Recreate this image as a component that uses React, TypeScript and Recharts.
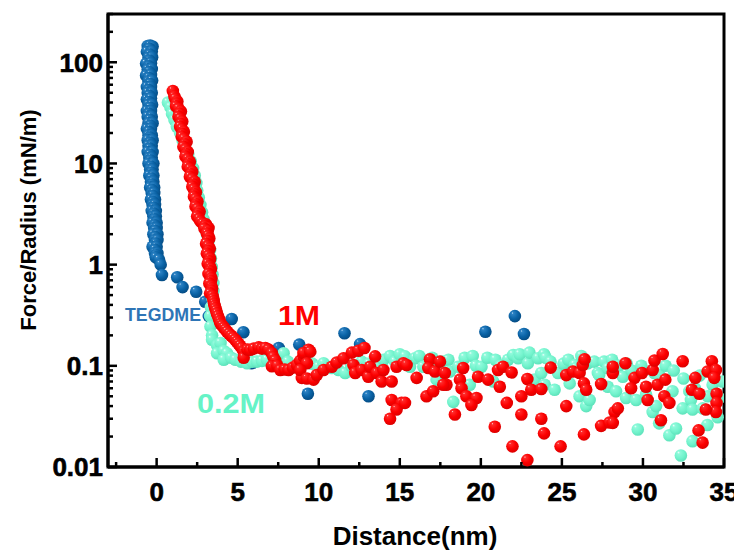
import { Scatter, ScatterChart, XAxis, YAxis } from 'recharts';

// axis ticks
const xMajor = [0, 5, 10, 15, 20, 25, 30, 35];
const xMinor = [-2.5, 2.5, 7.5, 12.5, 17.5, 22.5, 27.5, 32.5];
const yMajor = [0.01, 0.1, 1, 10, 100];
const yMinor = [
  0.02, 0.03, 0.04, 0.05, 0.06, 0.07, 0.08, 0.09,
  0.2, 0.3, 0.4, 0.5, 0.6, 0.7, 0.8, 0.9,
  2, 3, 4, 5, 6, 7, 8, 9,
  20, 30, 40, 50, 60, 70, 80, 90,
  200, 300,
];

// [distance nm, force/radius mN/m]
const tegdme: [number, number][] = [
  [-0.55, 145], [-0.4, 146], [-0.25, 143], [-0.45, 136],
  [-0.6, 127], [-0.3, 128], [-0.42, 119], [-0.5, 111], [-0.28, 112], [-0.45, 104],
  [-0.65, 97], [-0.35, 98], [-0.48, 91], [-0.55, 85], [-0.3, 86], [-0.45, 80],
  [-0.65, 74], [-0.35, 75], [-0.48, 70], [-0.5, 65], [-0.28, 66], [-0.4, 61],
  [-0.6, 57], [-0.35, 57], [-0.48, 53], [-0.55, 50], [-0.3, 50], [-0.45, 46.5],
  [-0.6, 43], [-0.35, 44], [-0.48, 40.5], [-0.5, 38], [-0.28, 38], [-0.4, 35.5],
  [-0.6, 33], [-0.35, 33], [-0.48, 31], [-0.55, 29], [-0.3, 29], [-0.42, 27],
  [-0.5, 25], [-0.25, 25], [-0.38, 23.5], [-0.6, 22], [-0.35, 22], [-0.48, 20.5],
  [-0.5, 19], [-0.3, 19], [-0.4, 18], [-0.55, 17], [-0.25, 17], [-0.4, 16],
  [-0.5, 15], [-0.3, 15], [-0.42, 14], [-0.55, 13], [-0.25, 13], [-0.4, 12.2],
  [-0.45, 11.4], [-0.3, 11.4], [-0.38, 10.7], [-0.5, 10], [-0.2, 10], [-0.35, 9.3],
  [-0.4, 8.7], [-0.25, 8.7], [-0.32, 8.1], [-0.45, 7.6], [-0.2, 7.6], [-0.32, 7.1],
  [-0.35, 6.6], [-0.2, 6.6], [-0.28, 6.2], [-0.4, 5.8], [-0.15, 5.8], [-0.28, 5.45],
  [-0.3, 5.1], [-0.15, 5.1], [-0.22, 4.75], [-0.35, 4.4], [-0.1, 4.4], [-0.22, 4.15],
  [-0.25, 3.9], [-0.1, 3.9], [-0.18, 3.65], [-0.3, 3.4], [-0.05, 3.4], [-0.18, 3.2],
  [-0.2, 3.0], [-0.05, 3.0], [-0.12, 2.8], [-0.25, 2.6], [0.0, 2.6], [-0.12, 2.45],
  [-0.15, 2.3], [0.0, 2.3], [-0.08, 2.15], [-0.2, 2.0], [0.05, 2.0], [-0.08, 1.87],
  [-0.1, 1.75], [0.05, 1.75], [-0.05, 1.62], [-0.25, 1.5], [0.0, 1.5], [-0.1, 1.4],
  [-0.1, 1.3], [0.05, 1.3], [-0.02, 1.24], [-0.05, 1.18], [0.15, 1.12],
  [0.25, 1.0], [0.33, 0.79], [1.27, 0.75], [1.6, 0.6],
  [2.44, 0.54], [3.0, 0.43], [3.22, 0.31], [4.63, 0.29],
  [5.35, 0.215], [5.88, 0.106], [7.53, 0.15], [8.8, 0.162],
  [9.33, 0.053], [11.59, 0.21], [12.55, 0.164], [13.07, 0.05],
  [20.28, 0.217], [22.1, 0.31], [22.66, 0.206],
];

const m02: [number, number][] = [
  [0.7, 40], [0.85, 36], [0.95, 31], [1.1, 27], [1.25, 23], [1.45, 20],
  [1.6, 17], [1.75, 14.5], [1.95, 12.5], [2.1, 10.5], [2.25, 9], [2.35, 7.6],
  [2.45, 6.4], [2.5, 5.4], [2.6, 4.6], [2.7, 3.9], [2.8, 3.3], [2.9, 2.8],
  [3.0, 2.4], [3.1, 2.0], [3.2, 1.7], [3.3, 1.4], [3.35, 1.15], [3.4, 0.95],
  [3.45, 0.8], [3.5, 0.66], [3.5, 0.55], [3.45, 0.46], [3.35, 0.38], [3.3, 0.31],
  [3.32, 0.245], [3.42, 0.2], [3.42, 0.181], [3.73, 0.16], [3.94, 0.168],
  [3.73, 0.133], [4.14, 0.14], [4.34, 0.133], [4.14, 0.115], [4.6, 0.12],
  [4.86, 0.115], [5.2, 0.11], [5.58, 0.106], [5.9, 0.11], [6.19, 0.11],
  [6.5, 0.112], [6.81, 0.115], [7.1, 0.11], [7.42, 0.106], [7.83, 0.133],
  [8.1, 0.11], [8.45, 0.099], [8.8, 0.105], [9.2, 0.11], [9.6, 0.105],
  [9.99, 0.098], [10.3, 0.106], [10.8, 0.095], [11.22, 0.091], [11.63, 0.085],
  [12.0, 0.1], [12.65, 0.11], [13.1, 0.105], [13.68, 0.102], [14.0, 0.115],
  [14.4, 0.125], [14.71, 0.11], [15.0, 0.13], [15.32, 0.124], [15.63, 0.098],
  [15.94, 0.119], [16.2, 0.125], [16.45, 0.098], [16.9, 0.105], [17.0, 0.12],
  [17.27, 0.073], [17.6, 0.11], [18.0, 0.115], [18.09, 0.088], [18.3, 0.044],
  [18.6, 0.098], [19.0, 0.12], [19.32, 0.065], [19.5, 0.125], [19.7, 0.1],
  [20.04, 0.098], [20.4, 0.12], [20.76, 0.07], [20.9, 0.115], [21.2, 0.1],
  [21.68, 0.115], [22.0, 0.128], [22.3, 0.119], [22.4, 0.13], [22.9, 0.106],
  [23.0, 0.135], [23.32, 0.073], [23.53, 0.119], [23.73, 0.085], [23.9, 0.13],
  [23.94, 0.065], [24.0, 0.12], [24.3, 0.11], [24.55, 0.058], [24.76, 0.085],
  [25.1, 0.105], [25.4, 0.115], [25.48, 0.067], [25.8, 0.102], [25.88, 0.095],
  [26.09, 0.05], [26.2, 0.125], [26.5, 0.04], [26.6, 0.106], [26.71, 0.046],
  [27.0, 0.11], [27.22, 0.085], [27.3, 0.081], [27.6, 0.11], [27.83, 0.095],
  [27.83, 0.062], [28.1, 0.115], [28.34, 0.056], [28.5, 0.1], [28.76, 0.078],
  [28.96, 0.048], [29.0, 0.105], [29.3, 0.09], [29.58, 0.046], [29.68, 0.0235],
  [29.9, 0.1], [30.19, 0.052], [30.6, 0.035], [30.7, 0.085], [30.81, 0.04],
  [31.0, 0.081], [31.0, 0.027], [31.4, 0.1], [31.63, 0.0206], [31.82, 0.056],
  [31.9, 0.09], [32.04, 0.024], [32.34, 0.013], [32.45, 0.038], [32.5, 0.075],
  [32.86, 0.056], [32.96, 0.046], [33.06, 0.037], [33.06, 0.018], [33.2, 0.06],
  [33.5, 0.08], [33.68, 0.038], [33.98, 0.026], [34.0, 0.05], [34.3, 0.065],
  [34.61, 0.031], [34.71, 0.048], [34.9, 0.07], [34.2, 0.09],
];

const m1: [number, number][] = [
  [1.0, 52], [1.1, 46], [1.15, 43.5], [1.28, 41], [1.24, 39], [1.2, 36.7],
  [1.35, 34.7], [1.5, 32.7], [1.42, 31], [1.35, 29], [1.46, 27.5], [1.58, 26],
  [1.5, 24.5], [1.45, 23], [1.56, 21.8], [1.68, 20.6], [1.6, 19.5], [1.55, 18.4],
  [1.7, 17.4], [1.85, 16.4], [1.75, 15.5], [1.65, 14.6], [1.78, 13.8], [1.92, 13],
  [1.85, 12.3], [1.78, 11.7], [1.92, 11], [2.05, 10.4], [1.98, 9.8], [1.92, 9.3],
  [2.06, 8.8], [2.2, 8.3], [2.12, 7.8], [2.05, 7.4], [2.2, 7.0], [2.35, 6.6],
  [2.28, 6.2], [2.2, 5.9], [2.3, 5.55], [2.42, 5.2], [2.36, 4.95], [2.3, 4.7],
  [2.4, 4.45], [2.52, 4.2], [2.46, 3.95], [2.4, 3.75], [2.52, 3.55], [2.65, 3.35],
  [2.58, 3.17], [2.5, 3.0], [2.62, 2.82], [2.72, 2.66], [2.85, 2.55], [3.05, 2.5],
  [3.0, 2.4], [3.2, 2.3], [2.95, 2.27], [3.15, 2.15], [3.1, 2.03], [3.18, 1.92],
  [3.25, 1.81], [3.16, 1.71], [3.05, 1.61], [3.18, 1.52], [3.28, 1.44], [3.2, 1.36],
  [3.1, 1.29], [3.2, 1.22], [3.3, 1.15], [3.25, 1.08], [3.15, 1.02], [3.28, 0.96],
  [3.35, 0.91], [3.3, 0.86], [3.2, 0.81], [3.32, 0.77], [3.38, 0.73], [3.35, 0.69],
  [3.25, 0.65], [3.38, 0.61], [3.42, 0.58], [3.4, 0.55], [3.3, 0.52], [3.45, 0.49],
  [3.5, 0.46], [3.52, 0.435], [3.55, 0.41], [3.58, 0.39], [3.62, 0.37], [3.68, 0.35],
  [3.72, 0.33], [3.78, 0.31], [3.85, 0.29], [3.9, 0.275], [3.95, 0.26], [4.05, 0.25],
  [4.15, 0.238], [4.25, 0.228], [4.35, 0.217], [4.48, 0.207], [4.6, 0.198], [4.72, 0.19],
  [4.85, 0.181], [4.95, 0.173], [5.05, 0.165], [5.15, 0.158], [5.25, 0.15],
  [5.37, 0.139], [5.37, 0.12], [5.6, 0.145], [5.78, 0.144],
  [6.0, 0.148], [6.3, 0.152], [6.5, 0.148], [6.71, 0.15], [6.9, 0.145], [7.11, 0.133],
  [7.2, 0.122], [7.32, 0.113], [7.11, 0.099], [7.45, 0.1], [7.63, 0.091], [7.9, 0.092],
  [8.14, 0.091], [8.4, 0.096], [8.65, 0.102], [8.85, 0.112], [9.06, 0.124], [9.2, 0.135],
  [9.37, 0.144], [8.96, 0.076],
  [9.06, 0.134], [9.48, 0.138], [9.27, 0.106], [8.86, 0.091], [9.27, 0.075], [9.68, 0.073],
  [9.88, 0.081], [10.3, 0.091], [10.81, 0.098], [11.11, 0.108], [11.53, 0.119], [12.04, 0.135],
  [12.45, 0.141], [12.82, 0.15], [12.14, 0.102], [12.25, 0.085], [12.65, 0.091], [13.06, 0.078],
  [13.17, 0.098], [13.48, 0.124], [13.58, 0.085], [13.88, 0.07], [13.99, 0.091], [14.5, 0.07],
  [14.8, 0.098], [15.22, 0.106], [14.5, 0.046], [15.11, 0.043], [14.8, 0.037], [14.4, 0.03],
  [15.42, 0.102], [16.04, 0.076], [16.86, 0.116], [16.76, 0.095], [17.17, 0.088], [17.48, 0.11],
  [17.78, 0.085], [17.88, 0.065], [18.71, 0.073], [18.81, 0.06], [18.91, 0.095], [19.11, 0.05],
  [19.73, 0.048], [19.42, 0.041], [19.83, 0.078], [20.45, 0.073], [21.06, 0.091], [21.37, 0.098],
  [21.17, 0.062], [21.9, 0.086], [16.65, 0.05], [17.06, 0.056], [15.32, 0.043], [18.4, 0.033],
  [20.86, 0.025], [21.6, 0.043], [21.95, 0.016], [17.68, 0.065],
  [22.87, 0.074], [23.11, 0.058], [23.73, 0.059], [24.31, 0.096], [25.27, 0.081], [25.68, 0.088],
  [26.09, 0.085], [26.29, 0.102], [26.4, 0.116], [26.36, 0.067], [26.5, 0.058], [27.42, 0.066],
  [28.14, 0.085], [28.14, 0.098], [22.5, 0.05], [22.5, 0.033], [23.73, 0.03], [23.9, 0.0215],
  [25.27, 0.04], [26.36, 0.021], [27.42, 0.0255], [27.94, 0.0275], [28.25, 0.035], [22.87, 0.0117],
  [24.92, 0.016],
  [28.92, 0.106], [29.48, 0.076], [29.94, 0.085], [29.27, 0.06], [30.19, 0.062], [30.29, 0.046],
  [30.6, 0.091], [30.71, 0.113], [31.22, 0.131], [30.9, 0.065], [31.38, 0.073], [31.32, 0.05],
  [31.63, 0.043], [32.45, 0.111], [33.23, 0.076], [33.02, 0.058], [33.48, 0.053], [34.25, 0.111],
  [33.99, 0.088], [34.5, 0.091], [34.4, 0.076], [34.54, 0.053], [34.54, 0.043], [34.5, 0.035],
  [33.88, 0.037], [28.45, 0.038], [28.14, 0.0273], [31.11, 0.029], [33.43, 0.023], [33.68, 0.0174],
];

const toPts = (arr: [number, number][]) => arr.map(([x, y]) => ({ x, y }));

const FONT = 'Liberation Sans, Arial, sans-serif';

// plot box in chart pixels
const PLOT = { left: 100, top: 6, width: 616, height: 453 };

function ball(grad: string) {
  return (props: any) => {
    const { cx, cy } = props;
    if (cx == null || cy == null) return <g />;
    return <circle cx={cx} cy={cy} r={6.3} fill={`url(#${grad})`} />;
  };
}

function XTick({ x, y, payload }: any) {
  const major = xMajor.includes(payload.value);
  return (
    <g>
      <line x1={x} x2={x} y1={y} y2={y - (major ? 9 : 5)} stroke="#000" strokeWidth={2.5} />
      {major && (
        <text x={x} y={y + 34} textAnchor="middle" fontFamily={FONT} fontWeight="bold" fontSize={26}
          fill="#000" stroke="#000" strokeWidth={0.6}>
          {payload.value}
        </text>
      )}
    </g>
  );
}

function YTick({ x, y, payload }: any) {
  const major = yMajor.includes(payload.value);
  return (
    <g>
      <line x1={x} x2={x + (major ? 9 : 5)} y1={y} y2={y} stroke="#000" strokeWidth={2.5} />
      {major && (
        <text x={x - 5} y={y} dy="0.36em" textAnchor="end" fontFamily={FONT} fontWeight="bold" fontSize={26}
          fill="#000" stroke="#000" strokeWidth={0.6}>
          {String(payload.value)}
        </text>
      )}
    </g>
  );
}

export default function App() {
  return (
    <div>
      <style>{'.recharts-surface { overflow: visible; }'}</style>
      <ScatterChart width={726} height={543} margin={{ top: 6, right: 10, left: 0, bottom: 0 }}>
        <defs>
          <radialGradient id="gBlue" cx="0.42" cy="0.38" r="0.62" fx="0.3" fy="0.25">
            <stop offset="0" stopColor="#cfe6f8" />
            <stop offset="0.13" stopColor="#2c82c4" />
            <stop offset="0.6" stopColor="#0a63a6" />
            <stop offset="1" stopColor="#054c84" />
          </radialGradient>
          <radialGradient id="gRed" cx="0.42" cy="0.38" r="0.62" fx="0.3" fy="0.25">
            <stop offset="0" stopColor="#ffd6d6" />
            <stop offset="0.13" stopColor="#ff2a2a" />
            <stop offset="0.6" stopColor="#fc0000" />
            <stop offset="1" stopColor="#dc0000" />
          </radialGradient>
          <radialGradient id="gAqua" cx="0.42" cy="0.38" r="0.62" fx="0.3" fy="0.25">
            <stop offset="0" stopColor="#effffa" />
            <stop offset="0.18" stopColor="#8ffadb" />
            <stop offset="0.65" stopColor="#72f3cc" />
            <stop offset="1" stopColor="#5ee2bb" />
          </radialGradient>
        </defs>
        <XAxis
          dataKey="x"
          type="number"
          domain={[-3, 35]}
          ticks={[...xMinor, ...xMajor].sort((a, b) => a - b)}
          interval={0}
          height={84}
          tickSize={0}
          tickMargin={0}
          tick={<XTick />}
          axisLine={{ stroke: '#000', strokeWidth: 3 }}
          allowDataOverflow
        />
        <YAxis
          dataKey="y"
          type="number"
          scale="log"
          domain={[0.01, 300]}
          ticks={[...yMinor, ...yMajor].sort((a, b) => a - b)}
          interval={0}
          width={100}
          tickSize={0}
          tickMargin={0}
          tick={<YTick />}
          axisLine={{ stroke: '#000', strokeWidth: 3 }}
          allowDataOverflow
        />
        <Scatter data={toPts(tegdme)} shape={ball('gBlue')} isAnimationActive={false} />
        <Scatter data={toPts(m02)} shape={ball('gAqua')} isAnimationActive={false} />
        <Scatter data={toPts(m1)} shape={ball('gRed')} isAnimationActive={false} />
        <rect x={PLOT.left} y={PLOT.top} width={PLOT.width} height={PLOT.height} fill="none" stroke="#000" strokeWidth={3} />
        <text x={155} y={313} textAnchor="middle" fontFamily={FONT} fontWeight="bold" fontSize={18}
          textLength={76} lengthAdjust="spacingAndGlyphs" fill="#2e75b6">
          TEGDME
        </text>
        <text x={291} y={317} textAnchor="middle" fontFamily={FONT} fontWeight="bold" fontSize={27}
          textLength={42} lengthAdjust="spacingAndGlyphs" fill="#ff0000">
          1M
        </text>
        <text x={223} y={405} textAnchor="middle" fontFamily={FONT} fontWeight="bold" fontSize={28}
          textLength={68} lengthAdjust="spacingAndGlyphs" fill="#66f3c6">
          0.2M
        </text>
        <text x={407} y={537} textAnchor="middle" fontFamily={FONT} fontWeight="bold" fontSize={26} fill="#000">
          Distance(nm)
        </text>
        <text
          transform="translate(28,212) rotate(-90)"
          textAnchor="middle"
          fontFamily={FONT}
          fontWeight="bold"
          fontSize={22}
          fill="#000"
        >
          Force/Radius (mN/m)
        </text>
      </ScatterChart>
    </div>
  );
}
